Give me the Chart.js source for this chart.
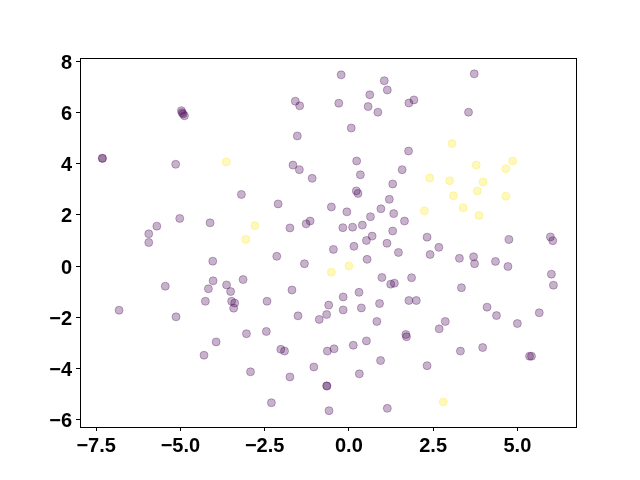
<!DOCTYPE html>
<html>
<head>
<meta charset="utf-8">
<script src="https://cdn.jsdelivr.net/npm/chart.js@4/dist/chart.umd.min.js"></script>
<style>
  html, body { margin: 0; padding: 0; background: #ffffff; }
  #wrap { width: 640px; height: 480px; position: relative; }
</style>
</head>
<body>
<div id="wrap"><canvas id="c" width="640" height="480"></canvas></div>
<script>
const purpleX = [-4.97,-4.95,-4.92,-4.88,-7.32,-7.31,-5.14,-3.19,-5.02,-5.70,-4.12,-5.94,-5.94,-0.23,1.05,1.14,0.62,-1.59,-1.46,-0.30,
  0.57,0.86,1.78,1.93,0.07,-1.53,1.77,-1.66,-1.47,0.23,0.34,1.58,-1.09,1.30,0.22,0.27,1.20,-2.10,-0.52,-0.06,
  0.95,1.33,0.64,1.65,-1.75,-1.27,-1.15,-0.18,0.11,0.40,1.30,0.69,0.52,1.13,0.15,3.72,3.55,2.32,2.67,4.75,
  5.98,6.05,2.41,3.28,3.70,3.73,4.35,4.72,6.01,6.07,1.86,3.34,1.78,2.00,4.10,4.38,5.00,5.65,2.86,2.68,
  1.69,1.71,3.31,3.97,5.36,5.42,2.32,-2.14,-1.32,-0.46,1.47,0.54,0.98,1.24,1.35,-3.14,-1.69,-2.43,-0.17,0.30,
  -0.60,-0.66,-0.88,-0.17,0.37,0.91,0.83,-1.51,-3.04,-2.45,-2.02,-1.91,-0.64,-0.44,0.13,0.52,0.94,-2.92,-1.75,-1.04,
  0.31,-0.66,-0.65,-2.30,-0.59,1.14,-4.04,-5.45,-4.03,-4.17,-3.63,-3.51,-4.26,-3.48,-3.39,-3.42,-6.82,-5.13,-3.94,-4.30];
const purpleY = [6.08,6.00,5.95,5.88,4.22,4.21,3.98,2.80,1.86,1.56,1.69,1.26,0.92,7.48,7.25,6.89,6.70,6.45,6.27,6.37,
  6.24,6.02,6.38,6.50,5.40,5.09,4.50,3.95,3.77,4.11,3.57,3.77,3.43,3.21,2.94,2.84,2.61,2.43,2.31,2.12,
  2.24,2.05,1.93,1.76,1.49,1.65,1.76,1.50,1.52,1.60,1.37,1.17,1.00,0.89,0.77,7.52,6.02,1.13,0.73,1.04,
  1.14,0.99,0.45,0.30,0.36,0.09,0.18,-0.02,-0.32,-0.75,-0.46,-0.85,-1.35,-1.35,-1.61,-1.94,-2.25,-1.83,-2.17,-2.46,
  -2.68,-2.77,-3.33,-3.19,-3.53,-3.53,-3.90,0.38,0.09,0.65,0.53,0.26,-0.45,-0.71,-0.67,-0.53,-0.94,-1.38,-1.21,-1.03,
  -1.53,-1.90,-2.09,-1.72,-1.64,-1.47,-2.17,-1.95,-2.65,-2.56,-3.26,-3.33,-3.33,-3.24,-3.10,-2.93,-3.70,-4.14,-4.34,-3.95,
  -4.22,-4.69,-4.70,-5.35,-5.66,-5.57,0.19,-0.79,-0.58,-0.89,-0.74,-1.00,-1.38,-1.38,-1.45,-1.65,-1.73,-1.99,-2.97,-3.49];
const yellowX = [-3.64,-3.06,-2.79,3.06,3.78,4.86,4.66,2.40,2.99,3.98,3.81,3.10,4.66,3.39,2.24,3.86,-0.52,0.00,2.80];
const yellowY = [4.07,1.04,1.58,4.79,3.95,4.11,3.81,3.44,3.34,3.29,2.94,2.75,2.73,2.28,2.16,1.98,-0.24,0.00,-5.32];
const xTickValues = [-7.5,-5.0,-2.5,0.0,2.5,5.0];
const yTickValues = [-6,-4,-2,0,2,4,6,8];

const toPts = (xs, ys) => xs.map((x, i) => ({x: x, y: ys[i]}));
const fmt = (v, d) => { const s = Math.abs(v).toFixed(d); return (v < 0 ? '\u2212' : '') + s; };

const frame = {
  id: 'frame',
  afterDatasetsDraw(chart) {
    const a = chart.chartArea, ctx = chart.ctx;
    ctx.save();
    ctx.strokeStyle = '#000';
    ctx.lineWidth = 1;
    ctx.strokeRect(Math.round(a.left) + 0.5, Math.round(a.top) + 0.5, Math.round(a.right - a.left), Math.round(a.bottom - a.top));
    ctx.restore();
  }
};

const tickFont = { family: '"Liberation Sans", Arial, sans-serif', size: 20, weight: 'bold' };

new Chart(document.getElementById('c'), {
  type: 'scatter',
  data: {
    datasets: [
      { data: toPts(purpleX, purpleY), backgroundColor: 'rgba(68,1,84,0.3)', borderColor: 'rgba(68,1,84,0.3)', borderWidth: 1, pointRadius: 4, pointHoverRadius: 4 },
      { data: toPts(yellowX, yellowY), backgroundColor: 'rgba(253,231,37,0.3)', borderColor: 'rgba(253,231,37,0.3)', borderWidth: 1, pointRadius: 4, pointHoverRadius: 4 }
    ]
  },
  options: {
    responsive: false,
    animation: false,
    events: [],
    layout: { padding: { left: 0, top: 58, right: 64, bottom: 0 } },
    plugins: { legend: { display: false }, tooltip: { enabled: false } },
    scales: {
      x: {
        type: 'linear', min: -7.98, max: 6.74,
        afterBuildTicks: s => { s.ticks = xTickValues.map(v => ({value: v})); },
        afterFit: s => { s.height = 53; },
        grid: { drawOnChartArea: false, drawTicks: true, tickLength: 4, color: '#000', tickWidth: 1 },
        border: { display: true, color: '#000', width: 1 },
        ticks: { color: '#000', font: tickFont, padding: 3, maxRotation: 0, autoSkip: false, callback: v => fmt(v, 1) }
      },
      y: {
        type: 'linear', min: -6.30, max: 8.14,
        afterBuildTicks: s => { s.ticks = yTickValues.map(v => ({value: v})); },
        afterFit: s => { s.width = 80; },
        grid: { drawOnChartArea: false, drawTicks: true, tickLength: 4, color: '#000', tickWidth: 1 },
        border: { display: true, color: '#000', width: 1 },
        ticks: { color: '#000', font: tickFont, padding: 4, labelOffset: 2, autoSkip: false, callback: v => fmt(v, 0) }
      }
    }
  },
  plugins: [frame]
});
</script>
</body>
</html>
